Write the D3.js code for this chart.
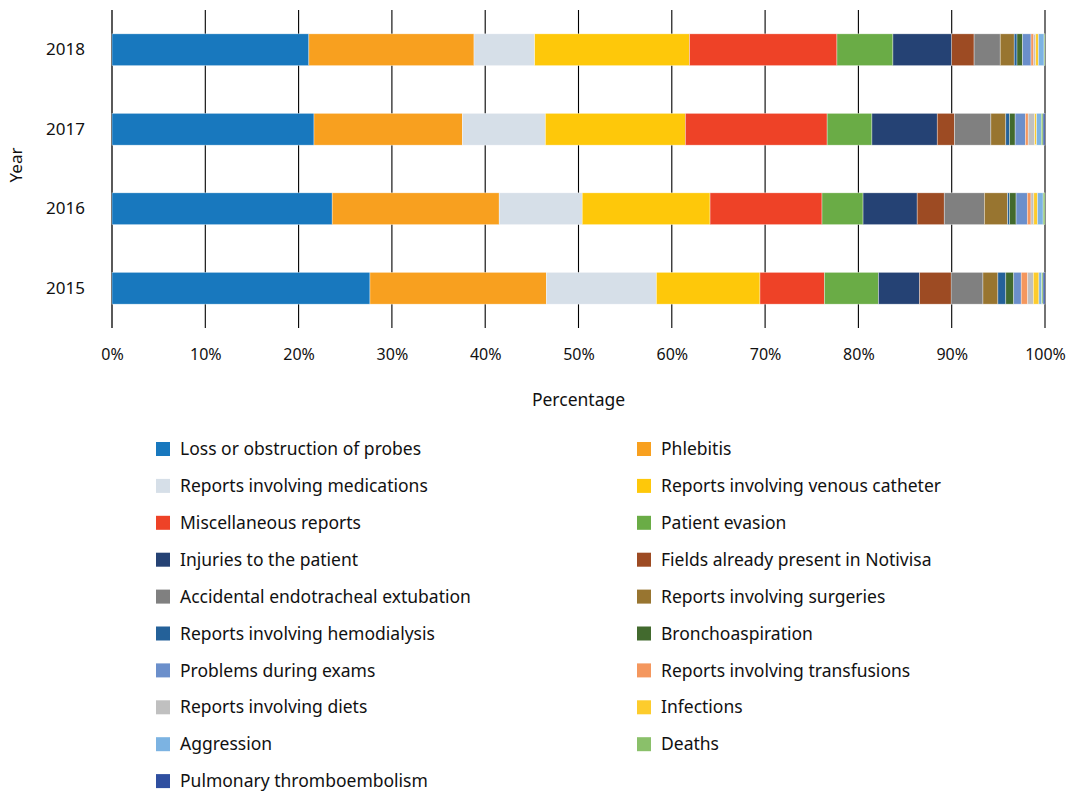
<!DOCTYPE html>
<html>
<head>
<meta charset="utf-8">
<script src="https://cdn.jsdelivr.net/npm/d3@7"></script>
<style>
  html, body { margin: 0; padding: 0; background: #fff; }
  svg { display: block; font-family: "Noto Sans", "Open Sans", sans-serif; }
</style>
</head>
<body>
<svg id="chart" width="1067" height="793"></svg>
<script>
// Years shown on the y axis (top to bottom)
const years = ["2018", "2017", "2016", "2015"];

// Incident categories in stacking order
const categories = [
  "Loss or obstruction of probes",
  "Phlebitis",
  "Reports involving medications",
  "Reports involving venous catheter",
  "Miscellaneous reports",
  "Patient evasion",
  "Injuries to the patient",
  "Fields already present in Notivisa",
  "Accidental endotracheal extubation",
  "Reports involving surgeries",
  "Reports involving hemodialysis",
  "Bronchoaspiration",
  "Problems during exams",
  "Reports involving transfusions",
  "Reports involving diets",
  "Infections",
  "Aggression",
  "Deaths",
  "Pulmonary thromboembolism"
];

const colors = [
  "#1878be", "#f8a01f", "#d6dfe8", "#fec80a", "#ee4227", "#6aac46",
  "#254274", "#9d4b23", "#808080", "#987530", "#246199", "#426a2e",
  "#6b8fcb", "#f4975e", "#c0c0c0", "#fdcc2c", "#7cb3e2", "#8ac06a",
  "#2f4fa0"
];

// Percentage share of each category per year (same order as categories)
const share2018 = [21.1, 17.7, 6.5, 16.6, 15.8, 6.0, 6.3, 2.4, 2.8, 1.5, 0.3, 0.6, 0.9, 0.3, 0.2, 0.3, 0.6, 0.1, 0.0];
const share2017 = [21.65, 15.9, 8.9, 15.0, 15.2, 4.8, 7.0, 1.85, 3.9, 1.6, 0.4, 0.6, 1.1, 0.3, 0.7, 0.2, 0.5, 0.2, 0.2];
const share2016 = [23.6, 17.9, 8.9, 13.7, 12.0, 4.4, 5.8, 2.9, 4.3, 2.5, 0.2, 0.7, 1.2, 0.4, 0.3, 0.4, 0.6, 0.2, 0.0];
const share2015 = [27.65, 18.9, 11.8, 11.1, 6.9, 5.8, 4.4, 3.4, 3.4, 1.6, 0.85, 0.85, 0.8, 0.7, 0.6, 0.6, 0.3, 0.15, 0.2];

const xTicks = [0, 10, 20, 30, 40, 50, 60, 70, 80, 90, 100];

const sharesByYear = { "2018": share2018, "2017": share2017, "2016": share2016, "2015": share2015 };

// Table of rows for d3.stack
const rows = years.map(y => {
  const r = { year: y };
  categories.forEach((c, i) => { r[c] = sharesByYear[y][i]; });
  return r;
});

const svg = d3.select("#chart");
const plot = { left: 112, right: 1045, top: 10, bottom: 328 };

const x = d3.scaleLinear().domain([0, 100]).range([plot.left, plot.right]);
const y = d3.scaleBand().domain(years).range([plot.top, plot.bottom]).paddingInner(0.6).paddingOuter(0.3);
const color = d3.scaleOrdinal().domain(categories).range(colors);

// Vertical grid lines (behind bars)
svg.append("g")
  .selectAll("line")
  .data(xTicks)
  .join("line")
  .attr("x1", d => x(d)).attr("x2", d => x(d))
  .attr("y1", plot.top).attr("y2", plot.bottom)
  .attr("stroke", "#000").attr("stroke-width", d => d === 0 ? 1.3 : 1.1);

// Stacked bars
const stack = d3.stack().keys(categories);
const series = stack(rows);

svg.append("g")
  .selectAll("g")
  .data(series)
  .join("g")
  .attr("fill", d => color(d.key))
  .selectAll("rect")
  .data(d => d)
  .join("rect")
  .attr("x", d => x(d[0]))
  .attr("y", d => y(d.data.year))
  .attr("width", d => Math.max(0, x(d[1]) - x(d[0])))
  .attr("height", y.bandwidth())
  .attr("stroke", "#ffffff")
  .attr("stroke-opacity", 0.6)
  .attr("stroke-width", 0.6);

// X axis tick labels
const xAxis = d3.axisBottom(x).tickValues(xTicks).tickFormat(d => d + "%").tickSize(0).tickPadding(0);
const gx = svg.append("g").attr("transform", `translate(0, 349)`).call(xAxis);
gx.select(".domain").remove();
gx.selectAll("text").attr("font-size", 16).attr("fill", "#111").attr("dy", "0.71em")
  .attr("font-family", "Noto Sans, Open Sans, sans-serif");

// Y axis labels
const yAxis = d3.axisLeft(y).tickSize(0).tickPadding(0);
const gy = svg.append("g").attr("transform", `translate(85, 0)`).call(yAxis);
gy.select(".domain").remove();
gy.selectAll("text").attr("font-size", 17).attr("fill", "#111")
  .attr("font-family", "Noto Sans, Open Sans, sans-serif");

// Axis titles
svg.append("text")
  .attr("x", x(50)).attr("y", 406)
  .attr("text-anchor", "middle")
  .attr("font-size", 17.5).attr("fill", "#111")
  .text("Percentage");

svg.append("text")
  .attr("transform", "translate(22, 165) rotate(-90)")
  .attr("text-anchor", "middle")
  .attr("font-size", 17).attr("fill", "#111")
  .text("Year");

// Legend in two columns
const legend = svg.append("g");
const colX = [156, 637];
const rowY0 = 449, rowStep = 36.9;
const items = legend.selectAll("g")
  .data(categories)
  .join("g")
  .attr("transform", (d, i) => `translate(${colX[i % 2]}, ${rowY0 + Math.floor(i / 2) * rowStep})`);
items.append("rect")
  .attr("x", 0).attr("y", -7).attr("width", 14).attr("height", 14)
  .attr("fill", d => color(d));
items.append("text")
  .attr("x", 24).attr("y", 0).attr("dy", "0.35em")
  .attr("font-size", 17.5).attr("fill", "#111")
  .text(d => d);
</script>
</body>
</html>
